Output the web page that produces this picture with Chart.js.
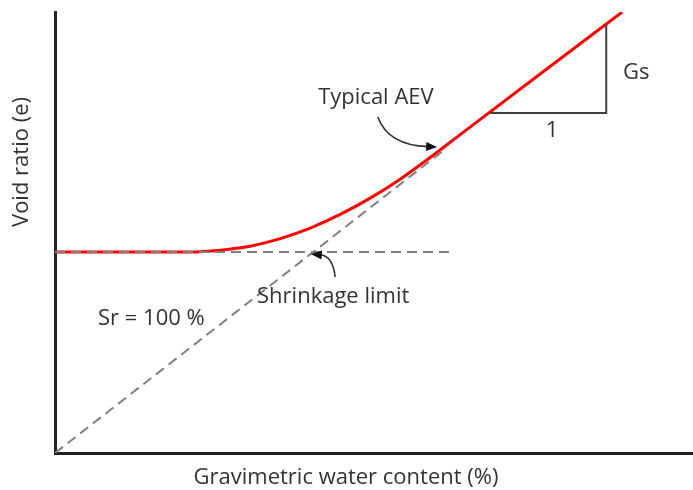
<!DOCTYPE html>
<html>
<head>
<meta charset="utf-8">
<script src="https://cdn.jsdelivr.net/npm/chart.js@4.4.1/dist/chart.umd.min.js"></script>
<style>
html,body{margin:0;padding:0;background:#fff;}
#wrap{position:relative;width:693px;height:490px;}
</style>
</head>
<body>
<div id="wrap"><canvas id="c"></canvas></div>
<script>
// Red void ratio curve (gravimetric water content vs void ratio)
const curveW = [0, 10, 21.2, 25.9, 30.6, 35.3, 40, 44.7, 49.4, 54.1, 58.8, 63.5, 88.9];
const curveE = [45.6, 45.6, 45.6, 46.0, 46.9, 48.6, 51.0, 54.1, 57.8, 62.1, 67.0, 72.2, 100];
// Shrinkage limit horizontal dashed line
const shrinkW = [0, 61.9];
const shrinkE = [45.6, 45.6];
// Saturation line Sr = 100 %
const satW = [0, 61];
const satE = [0, 68.7];
// Slope triangle (1 : Gs)
const triW = [68.2, 86.4, 86.4];
const triE = [77.1, 77.1, 97.1];
// Labels
const labelText = ["Typical AEV", "Shrinkage limit", "Sr = 100 %", "Gs", "1"];
const labelW = [50.3, 43.6, 15.1, 91.1, 77.9];
const labelE = [80.5, 35.4, 30.4, 86.3, 73.1];
// Annotation arrows (start, control, tip) in data units
const arrowAEV_W = [50.6, 52.2, 59.9];
const arrowAEV_E = [76.2, 69.8, 69.4];
const arrowSL_W = [43.9, 43.6, 40.1];
const arrowSL_E = [39.9, 44.7, 45.1];
const xTitle = "Gravimetric water content (%)";
const yTitle = "Void ratio (e)";

const pts = (xs, ys) => xs.map((x, i) => ({x: x, y: ys[i]}));
const FONT = "'Open Sans', Lato, sans-serif";
const TXT = '#333333';

const annot = {
  id: 'annot',
  afterDatasetsDraw(chart) {
    const ctx = chart.ctx, xs = chart.scales.x, ys = chart.scales.y;
    const px = v => xs.getPixelForValue(v), py = v => ys.getPixelForValue(v);
    ctx.save();
    // labels
    ctx.fillStyle = TXT;
    ctx.font = "22px " + FONT;
    ctx.textAlign = 'center';
    ctx.textBaseline = 'middle';
    labelText.forEach((t, i) => ctx.fillText(t, px(labelW[i]), py(labelE[i])));
    // arrows
    const arrow = (W, E) => {
      const x0 = px(W[0]), y0 = py(E[0]), x1 = px(W[1]), y1 = py(E[1]), x2 = px(W[2]), y2 = py(E[2]);
      ctx.strokeStyle = '#333'; ctx.fillStyle = '#111'; ctx.lineWidth = 1.6;
      const ang = Math.atan2(y2 - y1, x2 - x1);
      const L = 11, Wd = 4.5;
      const bx = x2 - L * Math.cos(ang), by = y2 - L * Math.sin(ang);
      ctx.beginPath(); ctx.moveTo(x0, y0); ctx.quadraticCurveTo(x1, y1, bx + 2*Math.cos(ang), by + 2*Math.sin(ang)); ctx.stroke();
      ctx.beginPath();
      ctx.moveTo(x2, y2);
      ctx.lineTo(bx + Wd * Math.sin(ang), by - Wd * Math.cos(ang));
      ctx.lineTo(bx - Wd * Math.sin(ang), by + Wd * Math.cos(ang));
      ctx.closePath(); ctx.fill();
    };
    arrow(arrowAEV_W, arrowAEV_E);
    arrow(arrowSL_W, arrowSL_E);
    // axis titles
    ctx.fillStyle = TXT;
    ctx.font = "22px " + FONT;
    ctx.fillText(xTitle, 346, 478);
    ctx.translate(22, 162);
    ctx.rotate(-Math.PI / 2);
    ctx.fillText(yTitle, 0, 0);
    ctx.restore();
  }
};

new Chart(document.getElementById('c'), {
  type: 'scatter',
  data: {
    datasets: [
      {data: pts(shrinkW, shrinkE), showLine: true, borderColor: '#808080', borderWidth: 2, borderDash: [10, 6], pointRadius: 0},
      {data: pts(satW, satE), showLine: true, borderColor: '#808080', borderWidth: 2, borderDash: [10, 6], pointRadius: 0},
      {data: pts(triW, triE), showLine: true, borderColor: '#404040', borderWidth: 2, pointRadius: 0},
      {data: pts(curveW, curveE), showLine: true, borderColor: '#ff0000', borderWidth: 3, pointRadius: 0, cubicInterpolationMode: 'monotone'}
    ]
  },
  options: {
    responsive: true,
    maintainAspectRatio: false,
    animation: false,
    devicePixelRatio: 1,
    layout: {padding: {left: 55, top: 12, right: 0, bottom: 37}},
    plugins: {legend: {display: false}, tooltip: {enabled: false}},
    scales: {
      x: {type: 'linear', min: 0, max: 100, ticks: {display: false}, grid: {display: false, drawTicks: false}, border: {color: '#222', width: 3}},
      y: {type: 'linear', min: 0, max: 100, ticks: {display: false}, grid: {display: false, drawTicks: false}, border: {color: '#222', width: 3}}
    }
  },
  plugins: [annot]
});
</script>
</body>
</html>
